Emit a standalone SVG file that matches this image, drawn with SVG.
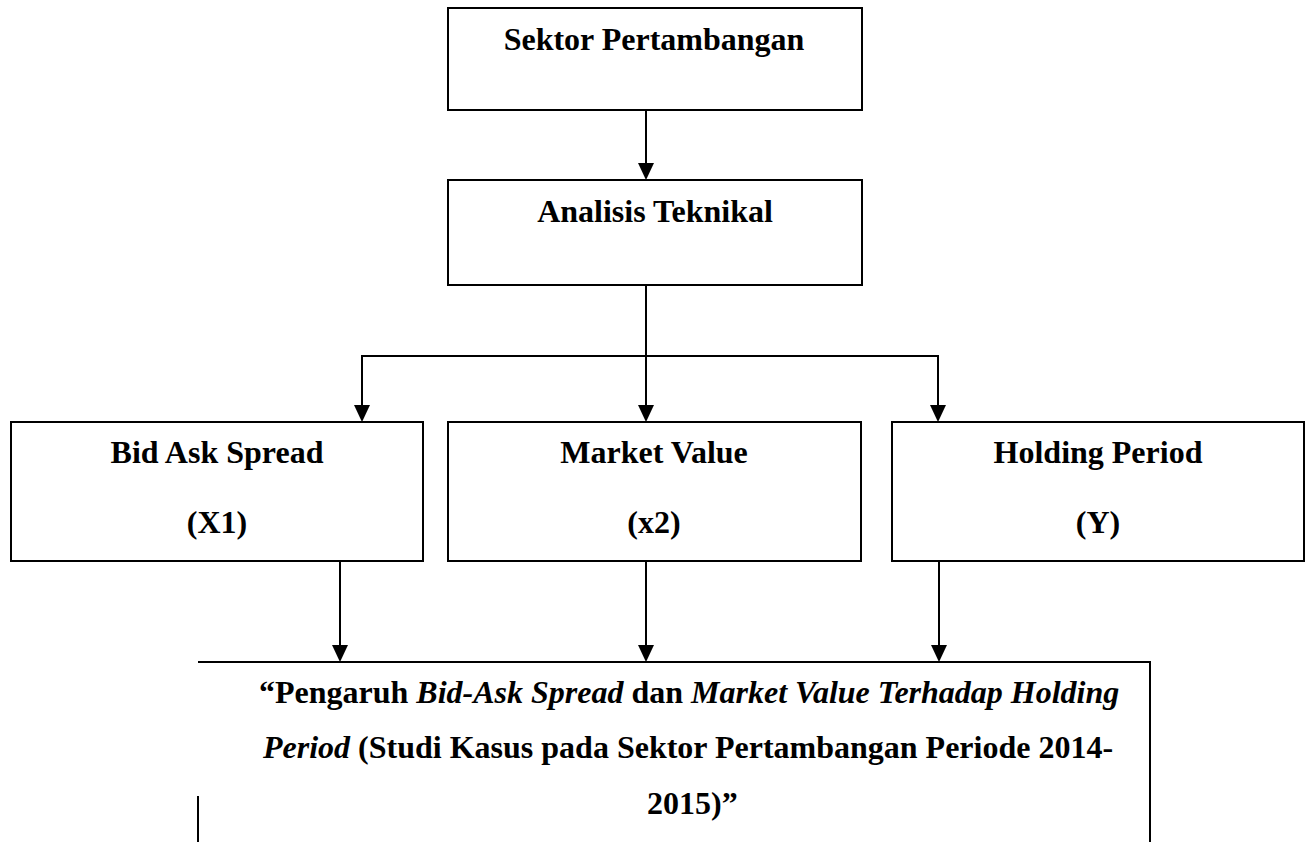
<svg xmlns="http://www.w3.org/2000/svg" width="1310" height="842" viewBox="0 0 1310 842">
<style>
.box{fill:#fff;stroke:#000;stroke-width:2}
.t{font-family:"Liberation Serif","Times New Roman",serif;font-weight:bold;font-size:32px;fill:#000}
.c{text-anchor:middle}
.i{font-style:italic}
.ln{fill:none;stroke:#000;stroke-width:2}
</style>
<defs>
<path id="ah" d="M-8,-17 L8,-17 L0,0 Z" fill="#000"/>
</defs>
<rect width="1310" height="842" fill="#fff"/>
<g id="connectors">
<line class="ln" x1="646" y1="110" x2="646" y2="164"/>
<use href="#ah" x="646" y="180"/>
<polyline class="ln" points="646,285 646,356"/>
<polyline class="ln" points="362,406 362,356 938,356 938,406"/>
<line class="ln" x1="646" y1="356" x2="646" y2="406"/>
<use href="#ah" x="362" y="422"/>
<use href="#ah" x="646" y="422"/>
<use href="#ah" x="938" y="422"/>
<line class="ln" x1="340" y1="553" x2="340" y2="646"/>
<line class="ln" x1="646" y1="553" x2="646" y2="646"/>
<line class="ln" x1="939" y1="551" x2="939" y2="646"/>
<use href="#ah" x="340" y="662"/>
<use href="#ah" x="646" y="662"/>
<use href="#ah" x="939" y="662"/>
</g>
<g id="sektor">
<rect class="box" x="448" y="8" width="414" height="102"/>
<text class="t c" x="654" y="50">Sektor Pertambangan</text>
</g>
<g id="analisis">
<rect class="box" x="448" y="180" width="414" height="105"/>
<text class="t c" x="655" y="222">Analisis Teknikal</text>
</g>
<g id="bid">
<rect class="box" x="11" y="422" width="412" height="139"/>
<text class="t c" x="217" y="463">Bid Ask Spread</text>
<text class="t c" x="217" y="533">(X1)</text>
</g>
<g id="market">
<rect class="box" x="448" y="422" width="413" height="139"/>
<text class="t c" x="654" y="463">Market Value</text>
<text class="t c" x="654" y="533">(x2)</text>
</g>
<g id="holding">
<rect class="box" x="892" y="422" width="412" height="139"/>
<text class="t c" x="1098" y="463">Holding Period</text>
<text class="t c" x="1098" y="533">(Y)</text>
</g>
<g id="judul">
<polyline class="ln" points="198,662 1150,662 1150,842"/>
<line class="ln" x1="198" y1="796" x2="198" y2="842"/>
<text class="t" x="259" y="703">“Pengaruh <tspan class="i">Bid-Ask Spread</tspan> dan <tspan class="i">Market Value Terhadap Holding</tspan></text>
<text class="t" x="263" y="758"><tspan class="i">Period</tspan> (Studi Kasus pada Sektor Pertambangan Periode 2014-</text>
<text class="t" x="647" y="814">2015)”</text>
</g>
</svg>
